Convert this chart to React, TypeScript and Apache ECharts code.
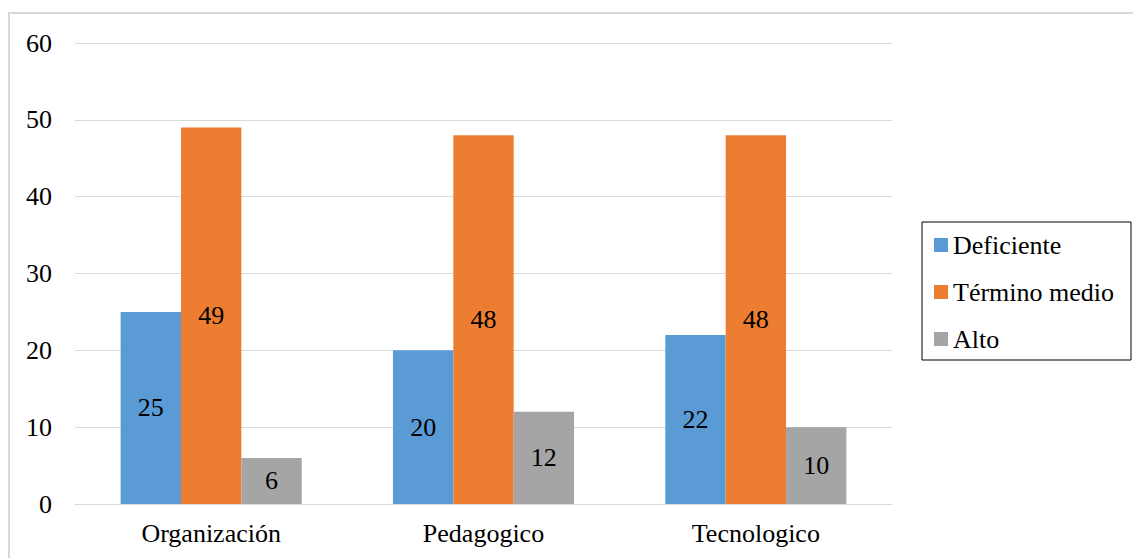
import React, { useEffect, useRef } from "react";
import * as echarts from "echarts";

const categories = ["Organización", "Pedagogico", "Tecnologico"];
const deficiente = [25, 20, 22];
const terminoMedio = [49, 48, 48];
const alto = [6, 12, 10];
const seriesNames = ["Deficiente", "Término medio", "Alto"];
const colors = ["#5b9bd5", "#ed7d31", "#a5a5a5"];

const FONT = "Liberation Serif";
const FS = 26;

export default function App() {
  const ref = useRef<HTMLDivElement>(null);
  useEffect(() => {
    if (!ref.current) return;
    const chart = echarts.init(ref.current, undefined, { renderer: "svg" });
    const mk = (name: string, data: number[], color: string) => ({
      name,
      type: "bar",
      data,
      barGap: "0%",
      barCategoryGap: "33.5%",
      itemStyle: { color },
      label: {
        show: true,
        position: "inside",
        color: "#000",
        fontFamily: FONT,
        fontSize: FS,
      },
    });
    chart.setOption({
      animation: false,
      textStyle: { fontFamily: FONT },
      graphic: [
        {
          type: "rect",
          shape: { x: 9, y: 13, width: 1200, height: 600 },
          style: { fill: "none", stroke: "#d9d9d9", lineWidth: 2 },
          silent: true,
        },
      ],
      grid: { left: 75, right: 241, top: 43, bottom: 54, containLabel: false },
      legend: {
        orient: "vertical",
        left: 922,
        top: 222,
        borderColor: "#000",
        borderWidth: 1,
        padding: [10, 17, 8, 12],
        itemWidth: 14,
        itemHeight: 14,
        itemGap: 21,
        icon: "rect",
        data: seriesNames,
        textStyle: { fontFamily: FONT, fontSize: FS, color: "#000", lineHeight: 25 },
      },
      xAxis: {
        type: "category",
        data: categories,
        axisLine: { show: true, lineStyle: { color: "#d9d9d9", width: 1 } },
        axisTick: { show: false },
        axisLabel: { color: "#000", fontFamily: FONT, fontSize: FS, margin: 16 },
      },
      yAxis: {
        type: "value",
        min: 0,
        max: 60,
        interval: 10,
        axisLine: { show: false },
        axisTick: { show: false },
        splitLine: { lineStyle: { color: "#d9d9d9", width: 1 } },
        axisLabel: { color: "#000", fontFamily: FONT, fontSize: FS, margin: 23 },
      },
      series: [
        mk(seriesNames[0], deficiente, colors[0]),
        mk(seriesNames[1], terminoMedio, colors[1]),
        mk(seriesNames[2], alto, colors[2]),
      ],
    });
    return () => chart.dispose();
  }, []);
  return (
    <div
      ref={ref}
      style={{ position: "absolute", left: 0, top: 0, width: 1133, height: 558, background: "#fff" }}
    />
  );
}
